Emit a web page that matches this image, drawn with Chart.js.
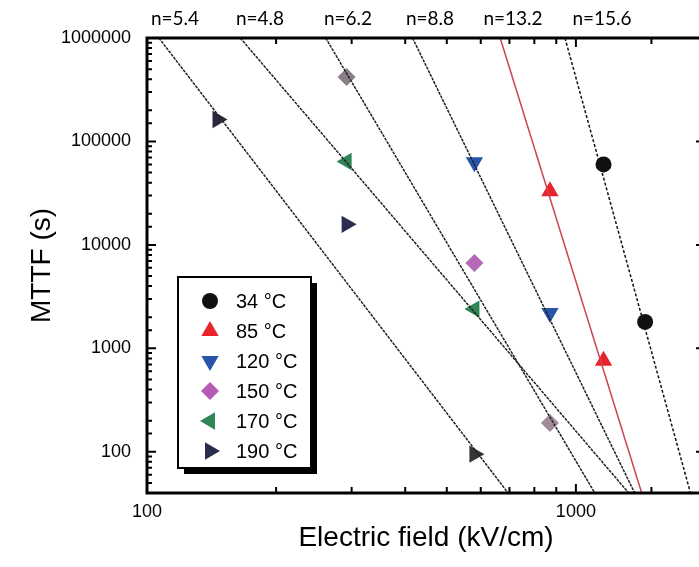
<!DOCTYPE html>
<html>
<head>
<meta charset="utf-8">
<script src="https://cdn.jsdelivr.net/npm/chart.js@4.4.1/dist/chart.umd.min.js"></script>
<style>
  html, body { margin: 0; padding: 0; background: #fff; overflow: hidden; }
  #wrap { position: relative; width: 715px; height: 567px; }
</style>
</head>
<body>
<div id="wrap"><canvas id="chart"></canvas></div>
<script>
// Legend labels and fitted exponents written above the frame
const temps = ['34 °C', '85 °C', '120 °C', '150 °C', '170 °C', '190 °C'];
const nLabels = ['n=5.4', 'n=4.8', 'n=6.2', 'n=8.8', 'n=13.2', 'n=15.6'];

// Tick labels
const xMajor = [100, 1000];
const yMajor = [100, 1000, 10000, 100000, 1000000];

// Measured points: electric field (kV/cm) and MTTF (s)
const field34 = [1160, 1450];
const mttf34 = [60000, 1800];
const field85 = [870, 1160];
const mttf85 = [33000, 760];
const field120 = [580, 870];
const mttf120 = [63000, 2200];
const field150 = [292, 580, 870];
const mttf150 = [420000, 6700, 190];
const field170 = [292, 580];
const mttf170 = [64000, 2400];
const field190 = [146, 292, 580];
const mttf190 = [163000, 15800, 95];

// Fit lines, read where they enter and leave the frame
const fit34E = [943, 1850];
const fit34T = [1000000, 40];
const fit85E = [666, 1424];
const fit85T = [1000000, 40];
const fit120E = [416, 1371];
const fit120T = [1000000, 40];
const fit150E = [261, 1107];
const fit150T = [1000000, 40];
const fit170E = [165, 1328];
const fit170T = [1000000, 40];
const fit190E = [106.6, 695];
const fit190T = [1000000, 40];

function pts(xs, ys) {
    return xs.map((x, i) => ({ x: x, y: ys[i] }));
}

function isMajor(v, list) {
    return list.some(m => Math.abs(v - m) / m < 1e-6);
}

// marker styles, in legend order
const markers = [
    { style: 'circle', rot: 0, r: 8, color: '#111111' },
    { style: 'triangle', rot: 0, r: 10, color: '#e8232b' },
    { style: 'triangle', rot: 180, r: 10, color: '#2756a8' },
    { style: 'rectRot', rot: 0, r: 9, color: '#b45ab4' },
    { style: 'triangle', rot: 270, r: 10, color: '#2f8555' },
    { style: 'triangle', rot: 90, r: 10, color: '#2c2c50' }
];

function fitLine(xs, ys, color, dash) {
    return {
        data: pts(xs, ys),
        showLine: true,
        borderColor: color,
        borderWidth: 1.5,
        borderDash: dash,
        pointRadius: 0,
        fill: false
    };
}

function pointSet(xs, ys, m, colors) {
    return {
        data: pts(xs, ys),
        showLine: false,
        pointStyle: m.style,
        rotation: m.rot,
        pointRadius: m.r,
        backgroundColor: colors || m.color,
        borderColor: colors || m.color,
        borderWidth: 0
    };
}

// inward ticks, frame, titles, n labels and the boxed legend
const decorations = {
    id: 'decorations',
    afterDraw(chart) {
        const ctx = chart.ctx;
        const a = chart.chartArea;
        const xs = chart.scales.x;
        const ys = chart.scales.y;
        ctx.save();
        ctx.strokeStyle = '#000';
        ctx.lineWidth = 2;
        ctx.beginPath();
        xs.ticks.forEach(t => {
            const px = xs.getPixelForValue(t.value);
            const len = isMajor(t.value, xMajor) ? 9 : 6;
            ctx.moveTo(px, a.bottom); ctx.lineTo(px, a.bottom - len);
            ctx.moveTo(px, a.top); ctx.lineTo(px, a.top + len);
        });
        ys.ticks.forEach(t => {
            const py = ys.getPixelForValue(t.value);
            const len = isMajor(t.value, yMajor) ? 9 : 5;
            ctx.moveTo(a.left, py); ctx.lineTo(a.left + len, py);
            ctx.moveTo(a.right, py); ctx.lineTo(a.right - len, py);
        });
        ctx.stroke();
        ctx.lineWidth = 3;
        ctx.strokeRect(a.left, a.top, a.right - a.left, a.bottom - a.top);

        // axis titles
        ctx.fillStyle = '#000';
        ctx.font = '28px "Liberation Sans", Arial, sans-serif';
        ctx.textAlign = 'center';
        ctx.textBaseline = 'middle';
        ctx.fillText('Electric field (kV/cm)', (a.left + a.right) / 2, 538);
        ctx.save();
        ctx.translate(42, (a.top + a.bottom) / 2);
        ctx.rotate(-Math.PI / 2);
        ctx.fillText('MTTF (s)', 0, 0);
        ctx.restore();

        // exponents above the frame
        const nx = [175, 260, 348, 430, 513, 602];
        ctx.font = '19px Lato, "Open Sans", sans-serif';
        nLabels.forEach((s, i) => ctx.fillText(s, nx[i], 19));

        // legend with drop shadow
        const bx = 178, by = 277, bw = 133, bh = 191;
        ctx.fillStyle = '#000';
        ctx.fillRect(bx + 6, by + 6, bw, bh);
        ctx.fillStyle = '#fff';
        ctx.fillRect(bx, by, bw, bh);
        ctx.lineWidth = 2;
        ctx.strokeRect(bx, by, bw, bh);
        ctx.font = '20px "Liberation Sans", Arial, sans-serif';
        ctx.textAlign = 'left';
        temps.forEach((s, i) => {
            const m = markers[i];
            const cy = by + 24 + i * 30;
            ctx.fillStyle = m.color;
            ctx.strokeStyle = m.color;
            Chart.helpers.drawPoint(ctx, {
                pointStyle: m.style, rotation: m.rot, radius: m.r, borderWidth: 0
            }, bx + 32, cy);
            ctx.fillStyle = '#000';
            ctx.fillText(s, bx + 58, cy + 1);
        });
        ctx.restore();
    }
};

new Chart(document.getElementById('chart'), {
    type: 'scatter',
    data: {
        datasets: [
            fitLine(fit190E, fit190T, '#222222', [3, 1]),
            fitLine(fit170E, fit170T, '#222222', [3, 1]),
            fitLine(fit150E, fit150T, '#222222', [3, 1]),
            fitLine(fit120E, fit120T, '#222222', [3, 1]),
            fitLine(fit85E, fit85T, '#cc4452', []),
            fitLine(fit34E, fit34T, '#111111', [3, 2]),
            pointSet(field34, mttf34, markers[0]),
            pointSet(field85, mttf85, markers[1]),
            pointSet(field120, mttf120, markers[2]),
            pointSet(field150, mttf150, markers[3], ['#8a7f88', '#b868b8', '#a08a98']),
            pointSet(field170, mttf170, markers[4]),
            pointSet(field190, mttf190, markers[5], ['#2a2a3a', '#2c2c50', '#333338'])
        ]
    },
    options: {
        responsive: true,
        maintainAspectRatio: false,
        animation: false,
        layout: { padding: { left: 0, top: 38, right: 9, bottom: 0 } },
        plugins: {
            legend: { display: false },
            tooltip: { enabled: false }
        },
        scales: {
            x: {
                type: 'logarithmic',
                min: 100,
                max: 2000,
                afterFit: s => { s.height = 74; },
                grid: { display: false, drawTicks: false },
                border: { display: false },
                ticks: {
                    autoSkip: false,
                    maxRotation: 0,
                    padding: 8,
                    color: '#000',
                    font: { size: 18, family: '"Liberation Sans", Arial, sans-serif' },
                    callback: v => isMajor(v, xMajor) ? String(v) : ''
                }
            },
            y: {
                type: 'logarithmic',
                min: 40,
                max: 1000000,
                afterFit: s => { s.width = 147; },
                grid: { display: false, drawTicks: false },
                border: { display: false },
                ticks: {
                    autoSkip: false,
                    padding: 16,
                    color: '#000',
                    font: { size: 18, family: '"Liberation Sans", Arial, sans-serif' },
                    callback: v => isMajor(v, yMajor) ? String(v) : ''
                }
            }
        }
    },
    plugins: [decorations]
});
</script>
</body>
</html>
